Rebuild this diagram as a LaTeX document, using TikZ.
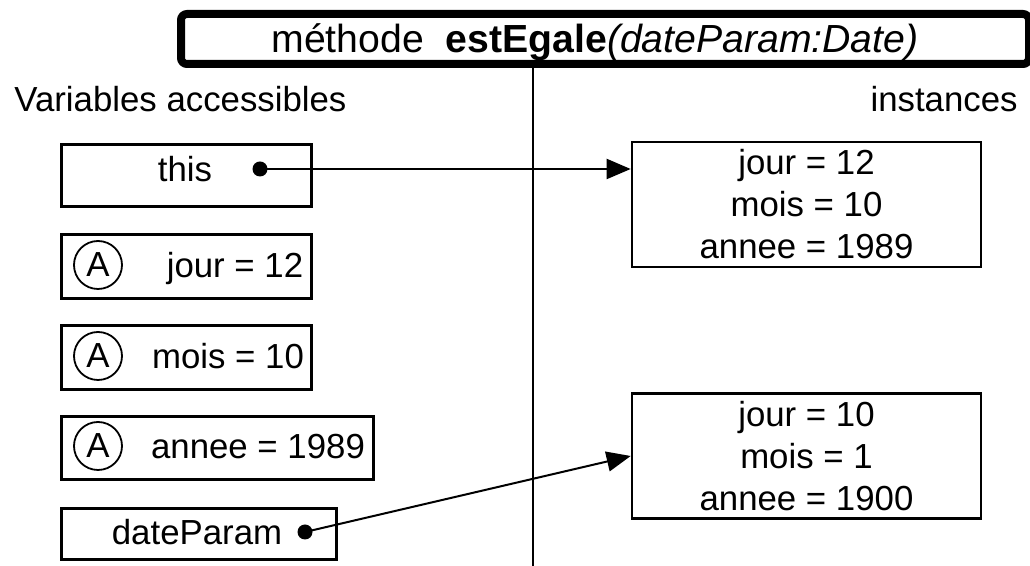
\documentclass[tikz,border=0pt]{standalone}
\usepackage{fontspec}
\setmainfont{Liberation Sans}
\usetikzlibrary{arrows.meta}

\tikzset{
    txt/.style={font=\fontsize{17.4}{21}\selectfont, inner sep=0pt},
    varbox/.style={draw, line width=1.3pt, inner sep=0pt, anchor=north west},
    instbox/.style={draw, line width=1.3pt, inner sep=0pt, align=center,
        minimum width=174.5pt, minimum height=62.5pt, font=\fontsize{17.4}{21}\selectfont},
    attr/.style={draw, circle, line width=0.9pt, minimum size=24pt, inner sep=0pt,
        font=\fontsize{17.4}{21}\selectfont},
    ptr/.style={circle, fill, minimum size=7.5pt, inner sep=0pt},
    ref/.style={-{Triangle[length=12pt,width=10pt]}, line width=1pt}
}

\begin{document}
\begin{tikzpicture}[x=0.5pt,y=-0.5pt]
    \useasboundingbox (0,0) rectangle (1030,566);

    % method header
    \draw[line width=4pt, rounded corners=3pt] (181,14) rectangle (1029,64);
    \node[font=\fontsize{19.6}{22}\selectfont, inner sep=0pt, anchor=base] (head) at (595,53)
        {méthode\ \ \textbf{estEgale}\textit{(dateParam:Date)}};
    \coordinate (top) at (533,68);
    \coordinate (bottom) at (533,566);
    \draw[line width=1pt] (top) -- (bottom);

    \node[txt, anchor=base west] (vars) at (14,112) {Variables accessibles};
    \node[txt, anchor=base east] (insts) at (1018,112) {instances};

    % local variables
    \node[varbox, minimum width=125pt, minimum height=31pt] (this) at (60,143) {};
    \node[txt, anchor=base] (thisLbl) at (185,182) {this};
    \node[ptr] (thisPtr) at (260,169) {};

    \node[varbox, minimum width=125pt, minimum height=32pt] (jour) at (60,233) {};
    \node[attr] (jourA) at (98,265) {A};
    \node[txt, anchor=base] (jourLbl) at (235,278) {jour = 12};

    \node[varbox, minimum width=125pt, minimum height=32pt] (mois) at (60,324) {};
    \node[attr] (moisA) at (98,356) {A};
    \node[txt, anchor=base] (moisLbl) at (228,369) {mois = 10};

    \node[varbox, minimum width=156pt, minimum height=31.5pt] (annee) at (60,415) {};
    \node[attr] (anneeA) at (98,446) {A};
    \node[txt, anchor=base] (anneeLbl) at (258,459) {annee = 1989};

    \node[varbox, minimum width=137.5pt, minimum height=25.5pt] (param) at (60,507) {};
    \node[txt, anchor=base] (paramLbl) at (197,545) {dateParam};
    \node[ptr] (paramPtr) at (305,532) {};

    % instances
    \node[instbox] (instA) at (806.5,204.5) {jour = 12\\mois = 10\\annee = 1989};
    \node[instbox] (instB) at (806.5,456) {jour = 10\\mois = 1\\annee = 1900};

    \draw[ref] (thisPtr.center) -- (thisPtr.center -| instA.west);
    \draw[ref] (paramPtr.center) -- (instB.west);
\end{tikzpicture}
\end{document}
